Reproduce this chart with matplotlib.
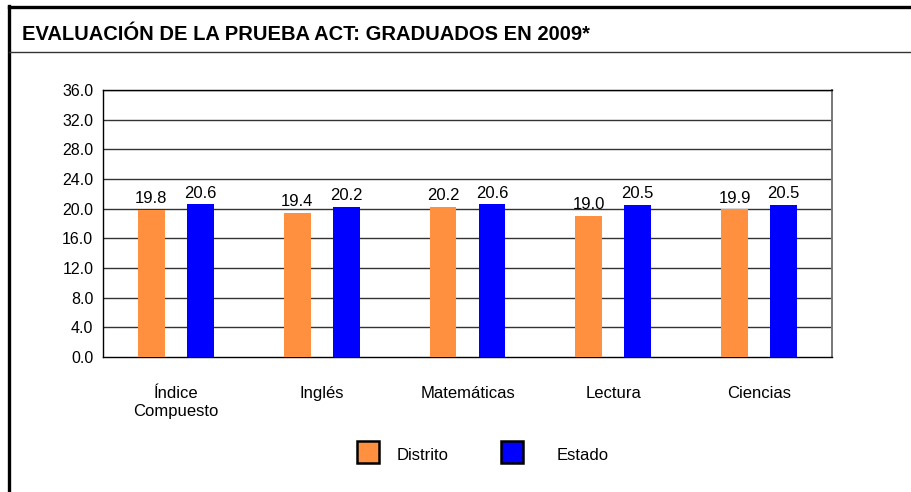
import matplotlib.pyplot as plt
import numpy as np
from matplotlib.patches import Rectangle
from matplotlib.lines import Line2D

# ACT results, 2009 graduates
categories = ["Índice\nCompuesto", "Inglés", "Matemáticas", "Lectura", "Ciencias"]
distrito = [19.8, 19.4, 20.2, 19.0, 19.9]
estado = [20.6, 20.2, 20.6, 20.5, 20.5]
series_names = ["Distrito", "Estado"]
yticks = [0, 4, 8, 12, 16, 20, 24, 28, 32, 36]

narrow = ["Liberation Sans Narrow", "Liberation Sans", "DejaVu Sans"]
regular = ["Liberation Sans", "DejaVu Sans"]

W, H = 911, 492
fig = plt.figure(figsize=(W / 100, H / 100), dpi=100)

def fx(px):
    return px / W

def fy(py):
    return 1 - py / H

# outer frame + title band
fig.add_artist(Line2D([fx(9), fx(9)], [fy(6), 0], color="black", lw=2.4))
fig.add_artist(Line2D([fx(9), 1], [fy(6.5), fy(6.5)], color="black", lw=2.4))
fig.add_artist(Line2D([fx(9), 1], [fy(52), fy(52)], color="#333333", lw=1.0))
fig.text(fx(22), fy(35), "EVALUACIÓN DE LA PRUEBA ACT: GRADUADOS EN 2009*",
         fontsize=14.5, fontweight="bold", family=narrow, va="center", ha="left")

ax = fig.add_axes([fx(103), fy(357), fx(832) - fx(103), fy(90) - fy(357)])
x = np.arange(len(categories))
off = 0.168
bw = 0.185
ax.bar(x - off, distrito, width=bw, color="#FF9040", zorder=3)
ax.bar(x + off, estado, width=bw, color="#0000FF", zorder=3)

for i in range(len(categories)):
    ax.text(x[i] - off, distrito[i] + 0.5, f"{distrito[i]:.1f}", ha="center", va="bottom",
            fontsize=12, family=narrow)
    ax.text(x[i] + off, estado[i] + 0.5, f"{estado[i]:.1f}", ha="center", va="bottom",
            fontsize=12, family=narrow)

ax.set_xlim(-0.5, len(categories) - 0.5)
ax.set_ylim(0, 36)
ax.set_yticks(yticks)
ax.set_yticklabels([f"{v:.1f}" for v in yticks], family=regular, fontsize=11.5)
ax.set_xticks(x)
ax.set_xticklabels(categories, family=narrow, fontsize=12, linespacing=1.2)
ax.tick_params(axis="both", length=0)
ax.tick_params(axis="y", pad=7)
ax.tick_params(axis="x", pad=21)
for v in yticks[1:]:
    ax.axhline(v, color="#333333", lw=1.0, zorder=1)
for s in ["left", "bottom", "top"]:
    ax.spines[s].set_color("black")
    ax.spines[s].set_linewidth(1.0)
ax.spines["right"].set_color("#777777")
ax.spines["right"].set_linewidth(1.4)

# legend
sq = 22
fig.add_artist(Rectangle((fx(357), fy(463)), fx(sq), sq / H, facecolor="#FF9040",
                         edgecolor="black", lw=1.8))
fig.text(fx(397), fy(456), series_names[0], fontsize=12, family=narrow, va="center")
fig.add_artist(Rectangle((fx(501), fy(463)), fx(sq), sq / H, facecolor="#0000FF",
                         edgecolor="black", lw=1.8))
fig.text(fx(557), fy(456), series_names[1], fontsize=12, family=narrow, va="center")

fig.savefig("out.png", dpi=100)
